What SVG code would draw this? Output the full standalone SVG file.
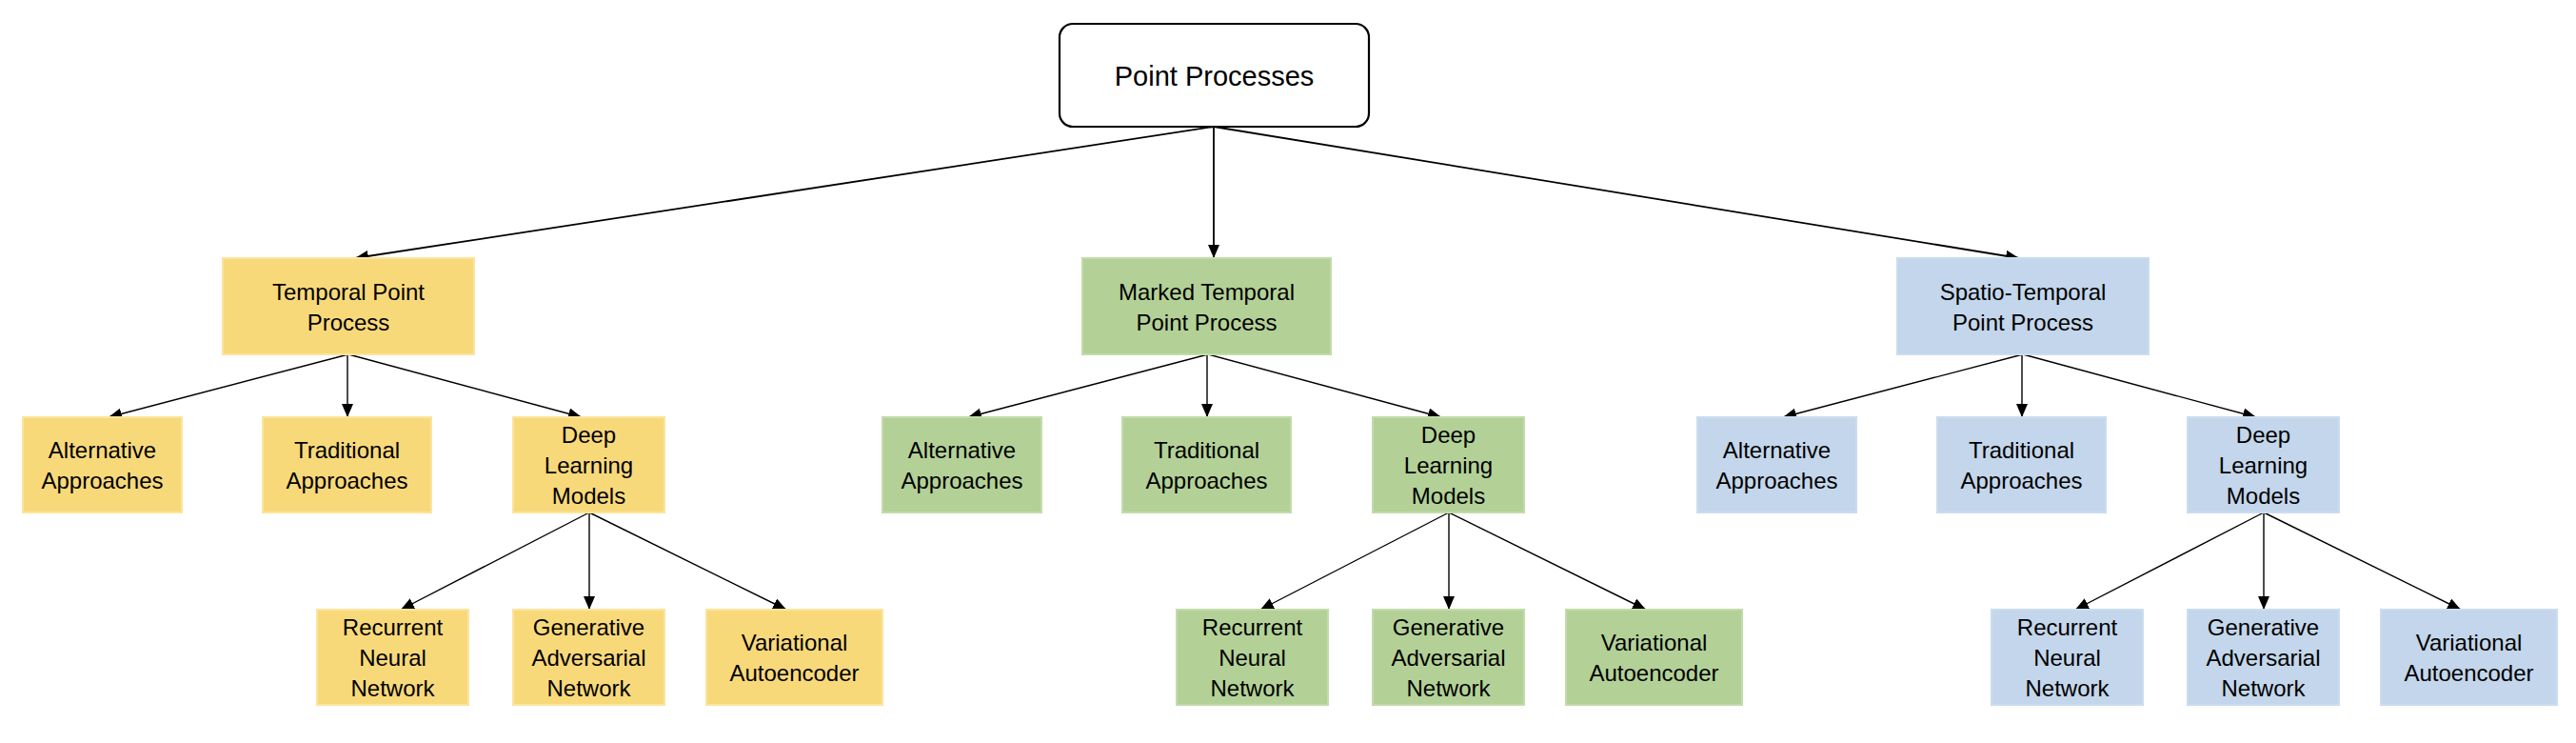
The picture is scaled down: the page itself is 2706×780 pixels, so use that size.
<svg xmlns="http://www.w3.org/2000/svg" width="2706" height="780" viewBox="0 0 2706 780">
<style>
.t{font-family:"Liberation Sans",Arial,sans-serif;font-size:24px;fill:#000;text-anchor:middle}
.root{font-family:"Liberation Sans",Arial,sans-serif;font-size:29px;fill:#000;text-anchor:middle}
.y{fill:#F8D97A;stroke:#FBE49E;stroke-width:2}
.g{fill:#B3D197;stroke:#C3DBAB;stroke-width:2}
.b{fill:#C3D6EB;stroke:#CBDCEE;stroke-width:2}
.c{stroke:#000;stroke-width:1.4;fill:none;marker-end:url(#ah)}
.c1{stroke:#000;stroke-width:1.8;fill:none;marker-end:url(#ah)}
</style>
<defs>
<marker id="ah" markerWidth="14" markerHeight="12" refX="14" refY="6" orient="auto" markerUnits="userSpaceOnUse">
<path d="M0,0 L14,6 L0,12 z" fill="#000"/>
</marker>
</defs>
<rect width="2706" height="780" fill="#fff"/>

<g id="connectors">
<line class="c1" x1="1275" y1="133" x2="373" y2="271"/>
<line class="c1" x1="1275" y1="133" x2="1275" y2="271"/>
<line class="c1" x1="1275" y1="133" x2="2121" y2="271"/>

<line class="c" x1="366" y1="372" x2="114" y2="438"/>
<line class="c" x1="365" y1="372" x2="365" y2="438"/>
<line class="c" x1="366" y1="372" x2="611" y2="438"/>
<line class="c" x1="619" y1="538" x2="421" y2="640"/>
<line class="c" x1="619" y1="538" x2="619" y2="640"/>
<line class="c" x1="619" y1="538" x2="826" y2="640"/>

<line class="c" x1="1269" y1="372" x2="1017" y2="438"/>
<line class="c" x1="1268" y1="372" x2="1268" y2="438"/>
<line class="c" x1="1269" y1="372" x2="1514" y2="438"/>
<line class="c" x1="1522" y1="538" x2="1324" y2="640"/>
<line class="c" x1="1522" y1="538" x2="1522" y2="640"/>
<line class="c" x1="1522" y1="538" x2="1729" y2="640"/>

<line class="c" x1="2125" y1="372" x2="1873" y2="438"/>
<line class="c" x1="2124" y1="372" x2="2124" y2="438"/>
<line class="c" x1="2125" y1="372" x2="2370" y2="438"/>
<line class="c" x1="2378" y1="538" x2="2180" y2="640"/>
<line class="c" x1="2378" y1="538" x2="2378" y2="640"/>
<line class="c" x1="2378" y1="538" x2="2585" y2="640"/>
</g>

<g id="root">
<rect x="1113" y="25" width="325" height="108" rx="14" ry="14" fill="#fff" stroke="#000" stroke-width="2.2"/>
<text class="root" x="1275.5" y="90">Point Processes</text>
</g>

<!-- Temporal -->
<g id="tpp"><rect class="y" x="234" y="271" width="264" height="101"/>
<text class="t" x="366" y="315">Temporal Point</text><text class="t" x="366" y="347">Process</text></g>
<g id="t-alt"><rect class="y" x="24" y="438" width="167" height="100"/>
<text class="t" x="107.5" y="481">Alternative</text><text class="t" x="107.5" y="513">Approaches</text></g>
<g id="t-trad"><rect class="y" x="276" y="438" width="177" height="100"/>
<text class="t" x="364.5" y="481">Traditional</text><text class="t" x="364.5" y="513">Approaches</text></g>
<g id="t-deep"><rect class="y" x="539" y="438" width="159" height="100"/>
<text class="t" x="618.5" y="465">Deep</text><text class="t" x="618.5" y="497">Learning</text><text class="t" x="618.5" y="529">Models</text></g>
<g id="t-rnn"><rect class="y" x="333" y="640" width="159" height="100"/>
<text class="t" x="412.5" y="667">Recurrent</text><text class="t" x="412.5" y="699">Neural</text><text class="t" x="412.5" y="731">Network</text></g>
<g id="t-gan"><rect class="y" x="539" y="640" width="159" height="100"/>
<text class="t" x="618.5" y="667">Generative</text><text class="t" x="618.5" y="699">Adversarial</text><text class="t" x="618.5" y="731">Network</text></g>
<g id="t-vae"><rect class="y" x="742" y="640" width="185" height="100"/>
<text class="t" x="834.5" y="683">Variational</text><text class="t" x="834.5" y="715">Autoencoder</text></g>

<!-- Marked -->
<g id="mtpp"><rect class="g" x="1137" y="271" width="261" height="101"/>
<text class="t" x="1267.5" y="315">Marked Temporal</text><text class="t" x="1267.5" y="347">Point Process</text></g>
<g id="m-alt"><rect class="g" x="927" y="438" width="167" height="100"/>
<text class="t" x="1010.5" y="481">Alternative</text><text class="t" x="1010.5" y="513">Approaches</text></g>
<g id="m-trad"><rect class="g" x="1179" y="438" width="177" height="100"/>
<text class="t" x="1267.5" y="481">Traditional</text><text class="t" x="1267.5" y="513">Approaches</text></g>
<g id="m-deep"><rect class="g" x="1442" y="438" width="159" height="100"/>
<text class="t" x="1521.5" y="465">Deep</text><text class="t" x="1521.5" y="497">Learning</text><text class="t" x="1521.5" y="529">Models</text></g>
<g id="m-rnn"><rect class="g" x="1236" y="640" width="159" height="100"/>
<text class="t" x="1315.5" y="667">Recurrent</text><text class="t" x="1315.5" y="699">Neural</text><text class="t" x="1315.5" y="731">Network</text></g>
<g id="m-gan"><rect class="g" x="1442" y="640" width="159" height="100"/>
<text class="t" x="1521.5" y="667">Generative</text><text class="t" x="1521.5" y="699">Adversarial</text><text class="t" x="1521.5" y="731">Network</text></g>
<g id="m-vae"><rect class="g" x="1645" y="640" width="185" height="100"/>
<text class="t" x="1737.5" y="683">Variational</text><text class="t" x="1737.5" y="715">Autoencoder</text></g>

<!-- Spatio-Temporal -->
<g id="stpp"><rect class="b" x="1993" y="271" width="264" height="101"/>
<text class="t" x="2125" y="315">Spatio-Temporal</text><text class="t" x="2125" y="347">Point Process</text></g>
<g id="s-alt"><rect class="b" x="1783" y="438" width="167" height="100"/>
<text class="t" x="1866.5" y="481">Alternative</text><text class="t" x="1866.5" y="513">Approaches</text></g>
<g id="s-trad"><rect class="b" x="2035" y="438" width="177" height="100"/>
<text class="t" x="2123.5" y="481">Traditional</text><text class="t" x="2123.5" y="513">Approaches</text></g>
<g id="s-deep"><rect class="b" x="2298" y="438" width="159" height="100"/>
<text class="t" x="2377.5" y="465">Deep</text><text class="t" x="2377.5" y="497">Learning</text><text class="t" x="2377.5" y="529">Models</text></g>
<g id="s-rnn"><rect class="b" x="2092" y="640" width="159" height="100"/>
<text class="t" x="2171.5" y="667">Recurrent</text><text class="t" x="2171.5" y="699">Neural</text><text class="t" x="2171.5" y="731">Network</text></g>
<g id="s-gan"><rect class="b" x="2298" y="640" width="159" height="100"/>
<text class="t" x="2377.5" y="667">Generative</text><text class="t" x="2377.5" y="699">Adversarial</text><text class="t" x="2377.5" y="731">Network</text></g>
<g id="s-vae"><rect class="b" x="2501" y="640" width="185" height="100"/>
<text class="t" x="2593.5" y="683">Variational</text><text class="t" x="2593.5" y="715">Autoencoder</text></g>
</svg>
